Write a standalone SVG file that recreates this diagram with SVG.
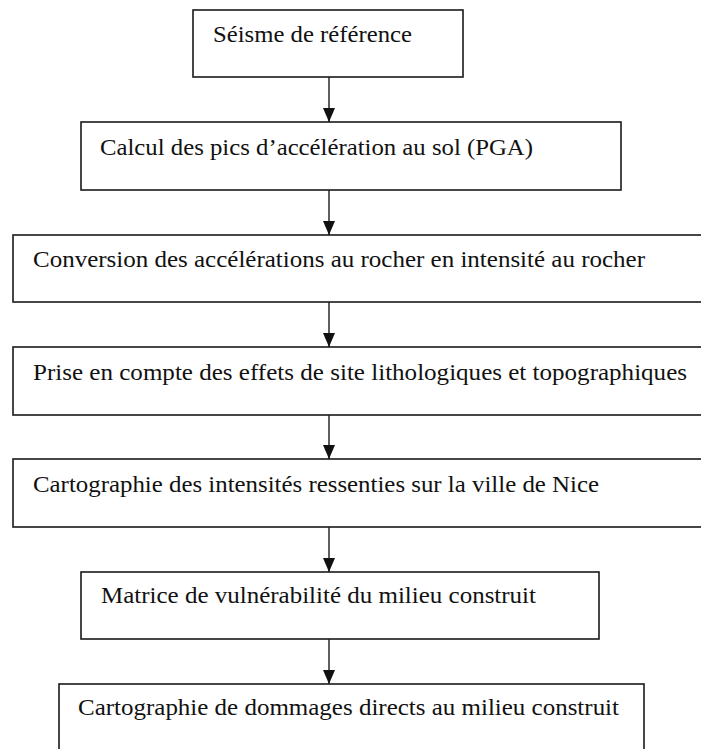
<svg xmlns="http://www.w3.org/2000/svg" width="701" height="749" viewBox="0 0 701 749">
<style>
rect.box { fill: #ffffff; stroke: #1a1a1a; stroke-width: 1.6; }
text { font-family: "Liberation Serif", "DejaVu Serif", "Times New Roman", serif; font-size: 23px; fill: #111111; }
.conn line { stroke: #1a1a1a; stroke-width: 1.4; }
</style>
<defs>
<marker id="arr" viewBox="0 0 14 12" refX="14" refY="6" markerWidth="14" markerHeight="12" markerUnits="userSpaceOnUse" orient="auto">
<path d="M0,0 L14,6 L0,12 Z" fill="#111111"/>
</marker>
</defs>
<rect width="701" height="749" fill="#ffffff"/>
<g id="connectors" class="conn">
<line x1="329" y1="77" x2="329" y2="122" marker-end="url(#arr)"/>
<line x1="329" y1="190" x2="329" y2="235" marker-end="url(#arr)"/>
<line x1="329" y1="302" x2="329" y2="347" marker-end="url(#arr)"/>
<line x1="329" y1="415" x2="329" y2="459" marker-end="url(#arr)"/>
<line x1="329" y1="527" x2="329" y2="572" marker-end="url(#arr)"/>
<line x1="329" y1="639" x2="329" y2="684" marker-end="url(#arr)"/>
</g>
<g id="n1"><rect class="box" x="193" y="10" width="270" height="67"/><text x="213" y="42" textLength="199" lengthAdjust="spacingAndGlyphs">Séisme de référence</text></g>
<g id="n2"><rect class="box" x="81" y="122" width="540" height="68"/><text x="100" y="155" textLength="433" lengthAdjust="spacingAndGlyphs">Calcul des pics d’accélération au sol (PGA)</text></g>
<g id="n3"><rect class="box" x="13" y="235" width="700" height="67"/><text x="33" y="267" textLength="612" lengthAdjust="spacingAndGlyphs">Conversion des accélérations au rocher en intensité au rocher</text></g>
<g id="n4"><rect class="box" x="13" y="347" width="700" height="68"/><text x="33" y="380" textLength="654" lengthAdjust="spacingAndGlyphs">Prise en compte des effets de site lithologiques et topographiques</text></g>
<g id="n5"><rect class="box" x="13" y="459" width="700" height="68"/><text x="33" y="492" textLength="566" lengthAdjust="spacingAndGlyphs">Cartographie des intensités ressenties sur la ville  de Nice</text></g>
<g id="n6"><rect class="box" x="81" y="572" width="518" height="67"/><text x="101" y="603" textLength="435" lengthAdjust="spacingAndGlyphs">Matrice de vulnérabilité du milieu construit</text></g>
<g id="n7"><rect class="box" x="59" y="684" width="585" height="80"/><text x="78" y="715" textLength="541" lengthAdjust="spacingAndGlyphs">Cartographie de dommages directs au milieu construit</text></g>
</svg>
